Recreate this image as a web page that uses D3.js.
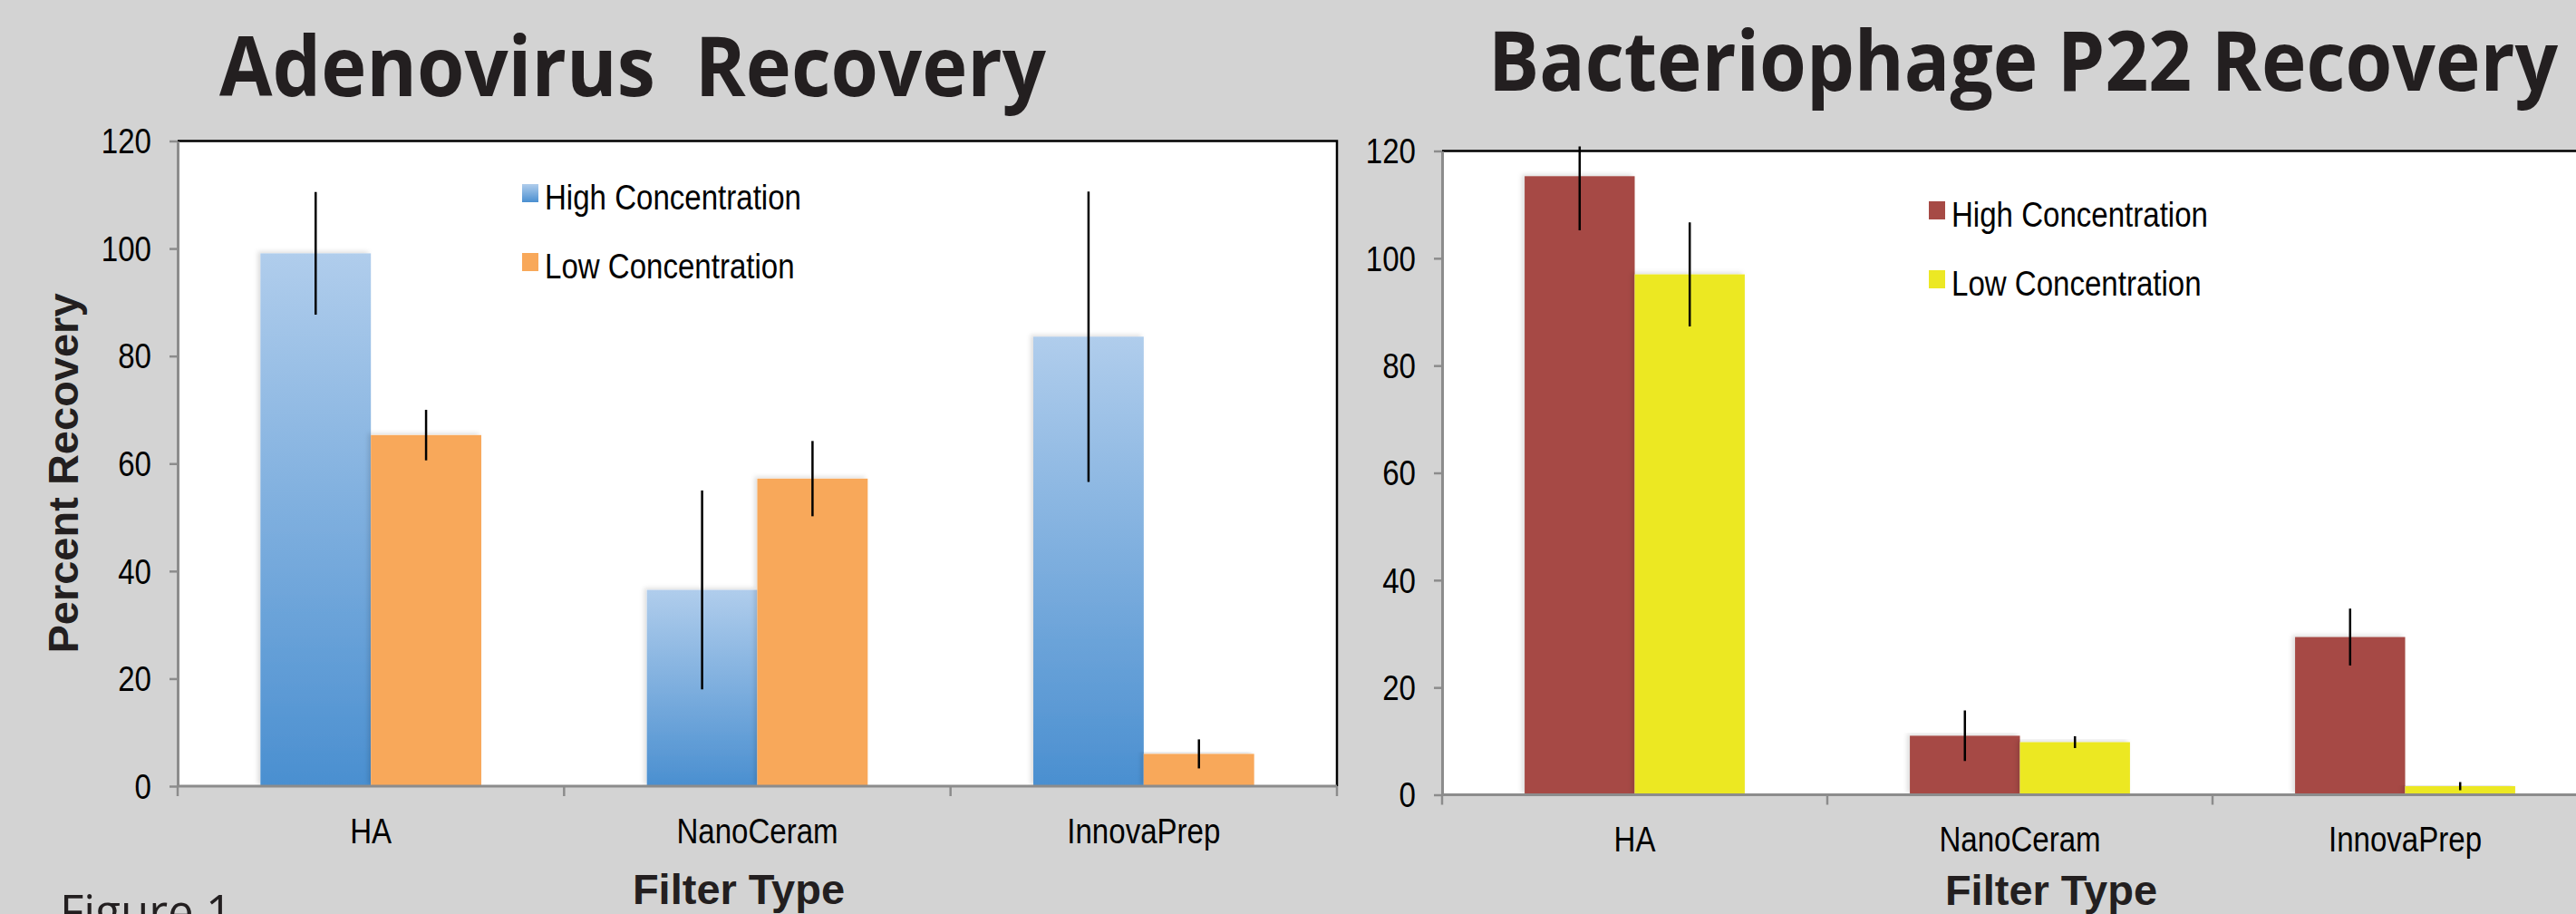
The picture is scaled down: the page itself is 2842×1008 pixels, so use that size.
<!DOCTYPE html>
<html>
<head>
<meta charset="utf-8">
<script src="https://cdn.jsdelivr.net/npm/d3@7"></script>
<style>
  html, body { margin: 0; padding: 0; overflow: hidden; background: #d3d3d3; }
  svg { display: block; }
</style>
</head>
<body>
<script>
// ---------------- DATA ----------------
const categories = ["HA", "NanoCeram", "InnovaPrep"];
const seriesNames = ["High Concentration", "Low Concentration"];
const yTicks = [0, 20, 40, 60, 80, 100, 120];
const titles = ["Adenovirus  Recovery", "Bacteriophage P22 Recovery"];
const xAxisTitle = "Filter Type";
const yAxisTitle = "Percent Recovery";
const figureLabel = "Figure 1";

// Adenovirus panel
const adenoHigh = [99.1, 36.5, 83.6];
const adenoHighErr = [11.4, 18.5, 27.0];
const adenoLow = [65.3, 57.2, 6.0];
const adenoLowErr = [4.7, 7.0, 2.7];

// Bacteriophage P22 panel
const p22High = [115.3, 11.0, 29.4];
const p22HighErr = [10.1, 4.7, 5.3];
const p22Low = [97.0, 9.8, 1.6];
const p22LowErr = [9.7, 1.1, 0.75];

// ---------------- LAYOUT ----------------
const W = 2842, H = 1008;
const SX = 0.87; // horizontal squeeze of regular text
const svg = d3.select("body").append("svg").attr("width", W).attr("height", H);
svg.append("rect").attr("width", W).attr("height", H).attr("fill", "#d3d3d3");

const defs = svg.append("defs");
const grad = defs.append("linearGradient").attr("id", "blueGrad")
  .attr("x1", 0).attr("y1", 0).attr("x2", 0).attr("y2", 1);
grad.append("stop").attr("offset", "0%").attr("stop-color", "#b0cdec");
grad.append("stop").attr("offset", "100%").attr("stop-color", "#4a8fd0");
const shadow = defs.append("filter").attr("id", "barShadow")
  .attr("x", "-20%").attr("y", "-5%").attr("width", "140%").attr("height", "110%");
shadow.append("feDropShadow").attr("dx", -3).attr("dy", -2).attr("stdDeviation", 2.5)
  .attr("flood-color", "#000").attr("flood-opacity", 0.13);

const panels = [
  {
    title: titles[0], titleX: 698, titleY: 106, titleLen: 912,
    x0: 196, x1: 1475, top: 155.5, bottom: 867,
    high: adenoHigh, highErr: adenoHighErr, low: adenoLow, lowErr: adenoLowErr,
    colors: ["url(#blueGrad)", "#f8a85a"],
    legendX: 576, legendY: 203,
    xTitleX: 815, xTitleY: 997, yTitle: true
  },
  {
    title: titles[1], titleX: 2232, titleY: 100, titleLen: 1180,
    x0: 1591, x1: 2866, top: 166.5, bottom: 876.5,
    high: p22High, highErr: p22HighErr, low: p22Low, lowErr: p22LowErr,
    colors: ["#a64a45", "#ece824"],
    legendX: 2128, legendY: 222,
    xTitleX: 2263, xTitleY: 998, yTitle: false
  }
];

panels.forEach((p, pi) => {
  const g = svg.append("g");
  const y = d3.scaleLinear().domain([0, 120]).range([p.bottom, p.top]);
  const x = d3.scaleBand().domain(categories).range([p.x0, p.x1]).padding(0);
  const xs = d3.scaleBand().domain(seriesNames).range([0, x.bandwidth()])
    .paddingInner(0).paddingOuter(0.75);

  // title
  g.append("text").attr("x", p.titleX).attr("y", p.titleY)
    .attr("text-anchor", "middle")
    .attr("xml:space", "preserve")
    .style("white-space", "pre")
    .attr("textLength", p.titleLen).attr("lengthAdjust", "spacingAndGlyphs")
    .style("font-family", "'Open Sans', sans-serif").style("font-weight", 700)
    .style("font-size", "91px").attr("fill", "#231f20")
    .text(p.title);

  // plot area
  g.append("rect").attr("x", p.x0).attr("y", p.top)
    .attr("width", p.x1 - p.x0).attr("height", p.bottom - p.top)
    .attr("fill", "#ffffff");
  // top & right border (black)
  g.append("path")
    .attr("d", `M${p.x0},${p.top}H${p.x1}V${p.bottom}`)
    .attr("fill", "none").attr("stroke", "#000").attr("stroke-width", 2.5);

  // rows of bars
  const rows = categories.map((c, i) => ([
    { cat: c, s: seriesNames[0], v: p.high[i], e: p.highErr[i], color: p.colors[0] },
    { cat: c, s: seriesNames[1], v: p.low[i], e: p.lowErr[i], color: p.colors[1] }
  ])).flat();

  g.append("g").selectAll("rect").data(rows).join("rect")
    .attr("x", d => x(d.cat) + xs(d.s))
    .attr("y", d => y(d.v))
    .attr("width", xs.bandwidth())
    .attr("height", d => y(0) - y(d.v))
    .attr("fill", d => d.color)
    .attr("filter", "url(#barShadow)");

  // error bars (clipped slightly above plot area, as in the source)
  const clipId = "errClip" + pi;
  defs.append("clipPath").attr("id", clipId).append("rect")
    .attr("x", p.x0).attr("y", p.top - 5).attr("width", p.x1 - p.x0).attr("height", p.bottom - p.top + 5);
  g.append("g").attr("clip-path", `url(#${clipId})`)
    .selectAll("line").data(rows).join("line")
    .attr("x1", d => x(d.cat) + xs(d.s) + xs.bandwidth() / 2)
    .attr("x2", d => x(d.cat) + xs(d.s) + xs.bandwidth() / 2)
    .attr("y1", d => y(d.v + d.e))
    .attr("y2", d => y(Math.max(0, d.v - d.e)))
    .attr("stroke", "#000").attr("stroke-width", 2.5);

  // y axis
  const yAxis = g.append("g").attr("transform", `translate(${p.x0},0)`)
    .call(d3.axisLeft(y).tickValues(yTicks).tickSize(9).tickSizeOuter(0));
  yAxis.select(".domain").attr("stroke", "#8c8c8c").attr("stroke-width", 3);
  yAxis.selectAll(".tick line").attr("stroke", "#8c8c8c").attr("stroke-width", 2.5);
  yAxis.selectAll(".tick text")
    .attr("x", -29 / SX).attr("dy", "0.35em")
    .attr("transform", `scale(${SX},1)`)
    .style("font-family", "'Liberation Sans', Arial, sans-serif")
    .style("font-size", "38px").attr("fill", "#000");

  // x axis (labels centered in categories)
  const xAxis = g.append("g").attr("transform", `translate(0,${p.bottom})`)
    .call(d3.axisBottom(x).tickSize(0).tickSizeOuter(0));
  xAxis.select(".domain").attr("stroke", "#8c8c8c").attr("stroke-width", 3)
    .attr("d", `M${p.x0},0H${p.x1}`);
  xAxis.selectAll(".tick text")
    .attr("y", 63).attr("dy", 0)
    .attr("transform", `scale(${SX},1)`)
    .style("font-family", "'Liberation Sans', Arial, sans-serif")
    .style("font-size", "38px").attr("fill", "#000");
  // category boundary ticks
  const bounds = categories.map(c => x(c)).concat([x(categories[categories.length - 1]) + x.bandwidth()]);
  xAxis.append("g").selectAll("line").data(bounds).join("line")
    .attr("x1", d => d).attr("x2", d => d)
    .attr("y1", 0).attr("y2", 11)
    .attr("stroke", "#8c8c8c").attr("stroke-width", 2.5);

  // x axis title
  g.append("text").attr("x", p.xTitleX).attr("y", p.xTitleY)
    .attr("text-anchor", "middle")
    .style("font-family", "'Liberation Sans', Arial, sans-serif")
    .style("font-weight", 700).style("font-size", "47px").attr("fill", "#231f20")
    .text(xAxisTitle);

  // y axis title
  if (p.yTitle) {
    g.append("text").attr("transform", `translate(86,522) rotate(-90)`)
      .attr("text-anchor", "middle")
      .style("font-family", "'Liberation Sans', Arial, sans-serif")
      .style("font-weight", 700).style("font-size", "47px").attr("fill", "#231f20")
      .text(yAxisTitle);
  }

  // legend
  const lg = g.append("g");
  seriesNames.forEach((s, i) => {
    const ly = p.legendY + i * 76;
    lg.append("rect").attr("x", p.legendX).attr("y", ly)
      .attr("width", 18).attr("height", 20).attr("fill", p.colors[i]);
    lg.append("text")
      .attr("transform", `translate(${p.legendX + 25},${ly + 28}) scale(${SX},1)`)
      .style("font-family", "'Liberation Sans', Arial, sans-serif")
      .style("font-size", "38px").attr("fill", "#000")
      .text(s);
  });
});

// figure label (cut off at the bottom edge as in the source)
svg.append("text").attr("x", 66).attr("y", 1024)
  .style("font-family", "'Open Sans', sans-serif").style("font-size", "51px")
  .attr("fill", "#231f20").text(figureLabel);
</script>
</body>
</html>
